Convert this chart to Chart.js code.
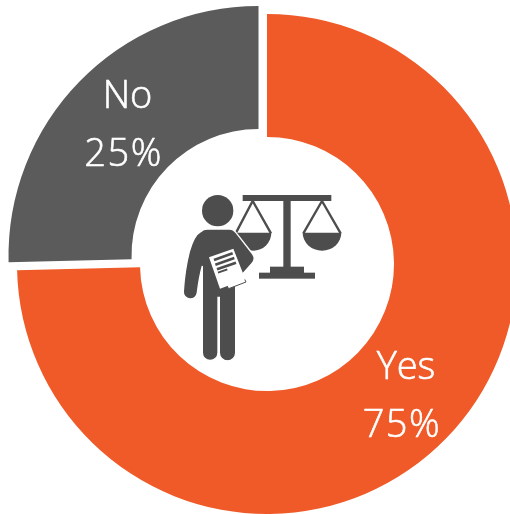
<!DOCTYPE html>
<html>
<head>
<meta charset="utf-8">
<title>Yes / No</title>
<script src="https://cdn.jsdelivr.net/npm/chart.js@4/dist/chart.umd.min.js"></script>
<style>
    html, body { margin: 0; background: #fff; overflow: hidden; width: 510px; height: 514px; }
    #chart { position: absolute; left: 0; top: 0; }
    #icon { position: absolute; left: 170px; top: 180px; }
</style>
</head>
<body>
<canvas id="chart" width="534" height="528"></canvas>
<svg id="icon" width="180" height="190" viewBox="0 0 540 570">
    <!-- scales -->
    <g fill="#4d4d4d">
        <rect x="218" y="45" width="266" height="18"/>
        <rect x="340" y="60" width="22" height="205"/>
        <rect x="300" y="260" width="102" height="20"/>
        <rect x="267" y="278" width="168" height="18"/>
        <path d="M196 158 H304 A54 54 0 0 1 196 158 Z"/>
        <path d="M398 158 H514 A58 54 0 0 1 398 158 Z"/>
    </g>
    <g fill="none" stroke="#4d4d4d" stroke-width="7">
        <path d="M197 160 L248 63 L303 160"/>
        <path d="M400 160 L456 63 L512 160"/>
    </g>
    <!-- person -->
    <circle cx="143" cy="92" r="47" fill="#4d4d4d"/>
    <path fill="#4d4d4d" stroke="#fff" stroke-width="4"
          d="M112 147 H178 Q190 147 198 158 L248 222 Q258 236 246 250 L197 305 V518 A24.500 24.500 0 0 1 148 518 V352 H144 V518 A23.500 23.500 0 0 1 97 518 V258
             Q88 290 82 338 A21 21 0 0 1 40 334 Q44 270 58 215 Q72 165 92 155 Q100 147 112 147 Z"/>
    <!-- papers -->
    <path fill="#fff" stroke="#4d4d4d" stroke-width="3" d="M170 316 L222 294 L228 306 L176 326 Z"/>
    <path fill="#fff" d="M117 232 L190 206 L226 298 L150 326 Z"/>
    <g fill="none" stroke="#4d4d4d" stroke-width="8">
        <path d="M132 240 L188 220"/>
        <path d="M136 254 L193 234"/>
        <path d="M141 268 L198 248"/>
    </g>
    <path fill="none" stroke="#4d4d4d" stroke-width="6" d="M144 278 L172 268"/>
</svg>
<script>
const categories = ['Yes', 'No'];
const shares = [74.6, 25.4];
const sliceColors = ['#ef5a28', '#5a5b5a'];

// pulled-out slice, chart.js offset does nothing useful on a quarter circle
const pulledSlice = 1;
const pullX = -8.5;
const pullY = -8;

// light weight is a bit too thin, a hairline stroke brings it closer
function label(ctx, text, x, y) {
    ctx.fillText(text, x, y);
    ctx.strokeText(text, x, y);
}

const explode = {
    id: 'explode',
    afterDatasetsUpdate(chart) {
        const arc = chart.getDatasetMeta(0).data[pulledSlice];
        arc.x += pullX;
        arc.y += pullY;
    }
};

const sliceLabels = {
    id: 'sliceLabels',
    afterDatasetsDraw(chart) {
        const ctx = chart.ctx;
        ctx.save();
        ctx.fillStyle = '#fff';
        ctx.strokeStyle = '#fff';
        ctx.lineWidth = 0.6;
        ctx.font = '300 38px "Open Sans"';
        ctx.textAlign = 'center';
        ctx.textBaseline = 'middle';
        chart.getDatasetMeta(0).data.forEach((arc, i) => {
            const c = arc.getCenterPoint();
            ctx.letterSpacing = '0px';
            label(ctx, categories[i], c.x + 4, c.y - 27);
            ctx.letterSpacing = '1.5px';
            label(ctx, Math.round(shares[i]) + '%', c.x, c.y + 31);
        });
        ctx.restore();
    }
};

new Chart(document.getElementById('chart').getContext('2d'), {
    type: 'doughnut',
    data: {
        labels: categories,
        datasets: [{
            data: shares,
            backgroundColor: sliceColors,
            borderWidth: 0
        }]
    },
    options: {
        responsive: false,
        animation: false,
        radius: 250,
        cutout: '50.8%',
        plugins: {
            legend: { display: false },
            tooltip: { enabled: false }
        }
    },
    plugins: [explode, sliceLabels]
});
</script>
</body>
</html>
